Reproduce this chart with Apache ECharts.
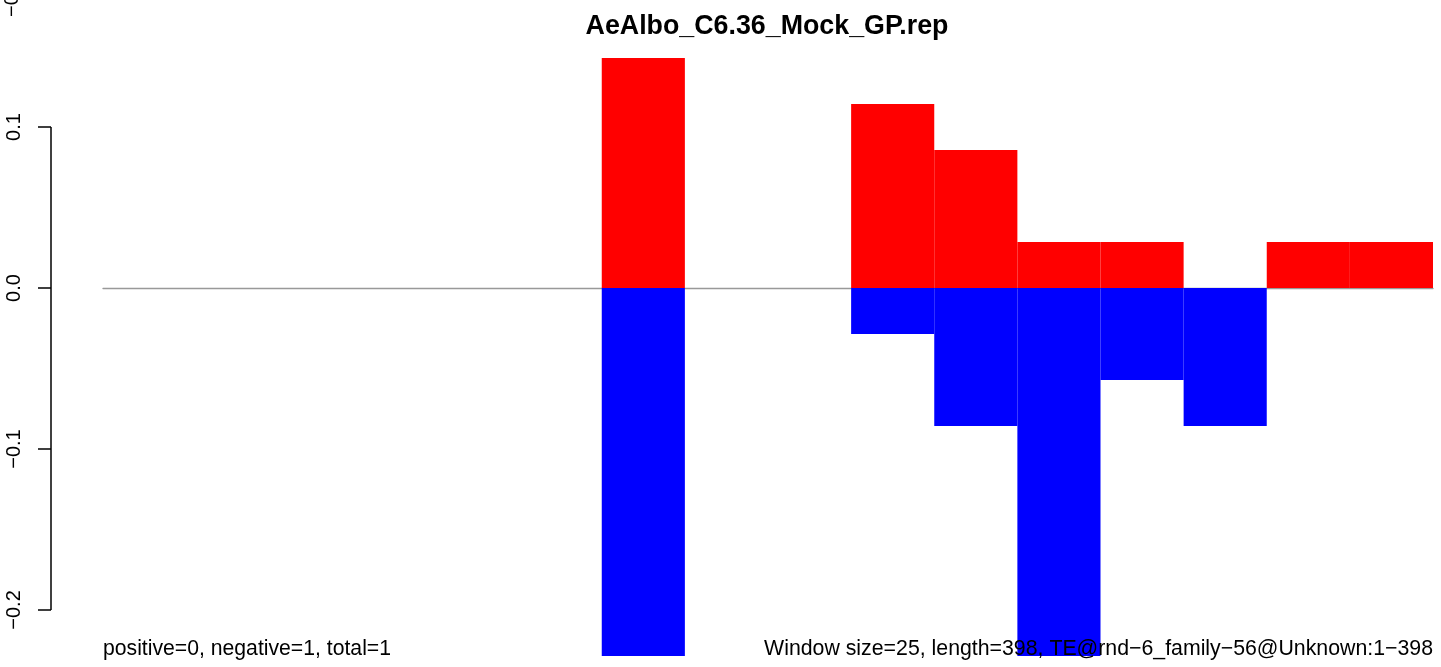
<!DOCTYPE html>
<html>
<head>
<meta charset="utf-8">
<script src="https://cdn.jsdelivr.net/npm/echarts@6/dist/echarts.min.js"></script>
<style>
  html, body { margin: 0; padding: 0; background: #fff; }
  #main { width: 1441px; height: 667px; }
</style>
</head>
<body>
<div id="main"></div>
<script>
// windows along the TE (16 windows of 25 bp)
var windows = ["1", "2", "3", "4", "5", "6", "7", "8", "9", "10", "11", "12", "13", "14", "15", "16"];
// fraction of reads per window, plus strand (up) and minus strand (down)
var positive = [0, 0, 0, 0, 0, 0, 0.1429, 0, 0, 0.1143, 0.0857, 0.0286, 0.0286, 0, 0.0286, 0.0286];
var negative = [0, 0, 0, 0, 0, 0, -0.2286, 0, 0, -0.0286, -0.0857, -0.2286, -0.0571, -0.0857, 0, 0];
var yTicks = [-0.2, -0.1, 0, 0.1];

var myChart = echarts.init(document.getElementById("main"), null, { renderer: "canvas" });

var font = "'Liberation Sans', Arial, Helvetica, sans-serif";

var option = {
    animation: false,
    backgroundColor: "#fff",
    title: {
        text: "AeAlbo_C6.36_Mock_GP.rep",
        left: 762,
        textAlign: "center",
        top: 8,
        textStyle: { fontFamily: font, fontWeight: "bold", fontSize: 26.8, color: "#000" },
    },
    grid: { left: 103, right: 8, top: 58, bottom: 11 },
    xAxis: {
        type: "category",
        data: windows,
        axisLine: { onZero: true, lineStyle: { color: "#999", width: 1.3 } },
        axisTick: { show: false },
        axisLabel: { show: false },
        splitLine: { show: false },
    },
    yAxis: {
        type: "value",
        min: -0.2286,
        max: 0.1429,
        offset: 52,
        axisLine: { show: false },
        splitLine: { show: false },
        axisTick: {
            show: true,
            length: 13,
            customValues: yTicks,
            lineStyle: { color: "#000", width: 1.5 },
        },
        axisLabel: {
            customValues: yTicks,
            rotate: 90,
            margin: 27,
            color: "#000",
            fontFamily: font,
            fontSize: 20,
            formatter: function (v) {
                return v.toFixed(1).replace("-", "\u2212");
            },
        },
    },
    series: [
        {
            name: "positive",
            type: "bar",
            data: positive,
            barWidth: "100%",
            barGap: "-100%",
            itemStyle: { color: "#ff0000" },
        },
        {
            name: "negative",
            type: "bar",
            data: negative,
            barWidth: "100%",
            barGap: "-100%",
            itemStyle: { color: "#0000ff" },
        },
    ],
};
myChart.setOption(option);

// R style axis line: only from first to last tick
var yTop = myChart.convertToPixel({ yAxisIndex: 0 }, 0.1);
var yBot = myChart.convertToPixel({ yAxisIndex: 0 }, -0.2);

myChart.setOption({
    graphic: [
        {
            type: "line",
            shape: { x1: 51, y1: yTop, x2: 51, y2: yBot },
            style: { stroke: "#000", lineWidth: 1.5 },
        },
        {
            type: "text",
            x: 103,
            y: 660,
            z: 10,
            style: {
                text: "positive=0, negative=1, total=1",
                font: "21.2px " + font,
                fill: "#000",
                textVerticalAlign: "bottom",
            },
        },
        {
            type: "text",
            x: 1433,
            y: 660,
            z: 10,
            style: {
                text: "Window size=25, length=398, TE@rnd\u22126_family\u221256@Unknown:1\u2212398",
                font: "21.3px " + font,
                fill: "#000",
                textAlign: "right",
                textVerticalAlign: "bottom",
            },
        },
        {
            type: "text",
            x: 22,
            y: 17,
            rotation: Math.PI / 2,
            style: {
                text: "\u22120.3",
                font: "20px " + font,
                fill: "#000",
                textAlign: "left",
                textVerticalAlign: "bottom",
            },
        },
    ],
});
</script>
</body>
</html>
